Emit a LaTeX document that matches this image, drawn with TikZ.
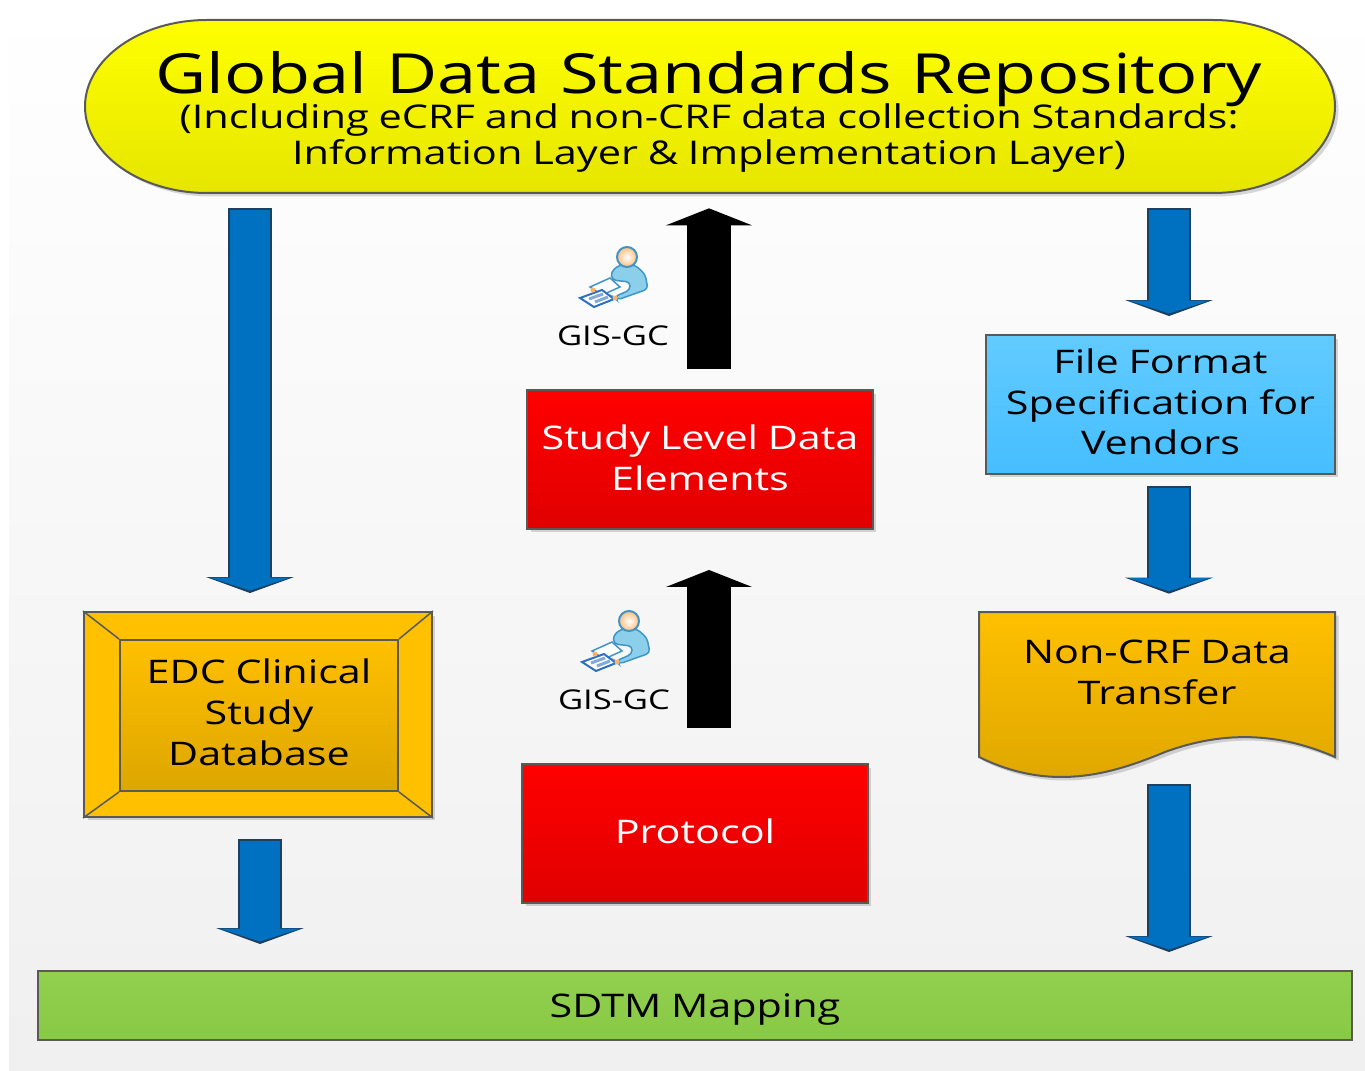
\documentclass[tikz,border=0pt]{standalone}
\usepackage{fontspec}
\setmainfont[FakeStretch=1.27]{Open Sans}
\usepackage{xcolor}
\usetikzlibrary{arrows, arrows.meta}
\usetikzlibrary{calc}
\usetikzlibrary{shadows}

\definecolor{edgegray}{HTML}{595959}
\definecolor{flowblue}{HTML}{0070C0}
\definecolor{flowedge}{HTML}{1F3F5F}
\definecolor{amber}{HTML}{FFC000}
\definecolor{amberlow}{HTML}{DDA600}
\definecolor{skylow}{HTML}{45BEFF}
\definecolor{skytop}{HTML}{62CBFF}
\definecolor{leaf}{HTML}{92D050}
\definecolor{leaflow}{HTML}{88C944}
\definecolor{bodyblue}{HTML}{8CCFEA}
\definecolor{bodyedge}{HTML}{3F94C8}
\definecolor{paperedge}{HTML}{3070C0}

\tikzset{
  softshadow/.style={drop shadow={shadow xshift=0.07cm, shadow yshift=-0.07cm, opacity=0.15, fill=black}},
  raisetext/.style={execute at end node={\par\vskip #1\hrule height 0pt}},
  boxbase/.style={draw=edgegray, line width=0.04cm, inner sep=0pt, align=center, text width=#1},
  boxfont/.style={font=\fontsize{18.5}{23.2}\selectfont, execute at begin node={\spaceskip=0.3em\relax}},
  redbox/.style={boxbase=6.92cm, boxfont, minimum width=6.92cm, minimum height=2.78cm, top color=red, bottom color=red!88!black, text=white, softshadow, raisetext=0.08cm},
  flowarrow/.style={line width=0.88cm, draw=black, -{Triangle[length=0.34cm, width=1.72cm, line width=0pt, fill=black]}},
  bluearrow/.style 2 args={line width=0.80cm, draw=flowblue, shorten <=#1, shorten >=#2+0.05cm,
    -{Triangle[length=0.26cm, width=1.62cm, line width=0pt, fill=flowblue, color=flowblue]},
    preaction={draw=flowedge, line width=0.88cm, shorten <=#1-0.04cm, shorten >=#2,
      -{Triangle[length=0.32cm, width=1.76cm, line width=0pt, fill=flowedge, color=flowedge]}}},
  reviewer/.pic={
    \draw[bodyedge, fill=white, line width=0.03cm] (-37,30) -- (-17,21) -- (-7,30) -- (-25,38) -- cycle;
    \draw[paperedge, fill=white, line width=0.04cm] (-47,41) -- (-25,33) -- (-13,42) -- (-33,50) -- cycle;
    \draw[paperedge!60, line width=0.06cm] (-38,42) -- (-24,37) (-32,45) -- (-19,40);
    \draw[bodyedge, fill=bodyblue, line width=0.03cm, rounded corners=0.08cm] (-8,8) -- (8,8) -- (18,17) -- (21,32) -- (-10,43) -- (-13,40) -- (3,33) -- (3,25) -- (-15,23) -- (-16,15) -- cycle;
    \fill[orange!60] (-34,33) circle (2.5) (-12,41) circle (2.5);
    \draw[bodyedge, shade, inner color=white, outer color=orange!50, line width=0.04cm] (0,0) circle (10);
  }
}

\begin{document}
\begin{tikzpicture}[x=0.02cm, y=-0.02cm]
  \useasboundingbox (0, 0) rectangle (1365, 1071);
  \shade[top color=white, bottom color=black!6] (9, 0) rectangle (1365, 1071);

  \coordinate (leftcol) at (250, 0);
  \coordinate (lowleftcol) at (260, 0);
  \coordinate (midcol) at (709, 0);
  \coordinate (rightcol) at (1169, 0);

  \draw[draw=edgegray, line width=0.04cm, top color=yellow, bottom color=yellow!90!black, softshadow] (207, 20) -- (1213, 20) .. controls (1280, 20) and (1335, 59) .. (1335, 106.5) .. controls (1335, 154) and (1280, 193) .. (1213, 193) -- (207, 193) .. controls (140, 193) and (85, 154) .. (85, 106.5) .. controls (85, 59) and (140, 20) .. (207, 20) -- cycle;
  \node[minimum width=25cm, minimum height=3.46cm, align=center, inner sep=0pt, text width=25cm, raisetext=-0.22cm] (repo) at (709, 106.5)
    {\fontsize{31.5}{21}\selectfont\spaceskip=0.35em\relax Global Data Standards Repository\\[-0.1cm]
     \fontsize{18.6}{21}\selectfont\spaceskip=0.3em\relax (Including eCRF and non-CRF data collection Standards:\\[0.02cm]
     \fontsize{18.6}{21}\selectfont\spaceskip=0.3em\relax Information Layer \& Implementation Layer)};

  \node[redbox] (study) at (700, 459.5) {Study Level Data\\Elements};
  \node[redbox] (protocol) at (695, 833.5) {Protocol};

  \node[boxbase=6.98cm, boxfont, minimum width=6.98cm, minimum height=2.78cm, top color=skytop, bottom color=skylow, softshadow, raisetext=0.10cm] (format) at (1160.5, 404.5) {File Format\\Specification for\\Vendors};

  \node[boxbase=6.96cm, minimum width=6.96cm, minimum height=4.1cm, fill=amber, softshadow] (edcframe) at (258, 714.5) {};
  \node[boxbase=5.56cm, boxfont, minimum width=5.56cm, minimum height=3.02cm, top color=amber, bottom color=amberlow, raisetext=0.12cm] (edc) at (259, 715.5) {EDC Clinical\\Study\\Database};
  \draw[edgegray, line width=0.03cm] (edcframe.north west) -- (edc.north west);
  \draw[edgegray, line width=0.03cm] (edcframe.north east) -- (edc.north east);
  \draw[edgegray, line width=0.03cm] (edcframe.south west) -- (edc.south west);
  \draw[edgegray, line width=0.03cm] (edcframe.south east) -- (edc.south east);

  \draw[draw=edgegray, line width=0.04cm, top color=amber, bottom color=amberlow, softshadow] (979, 612) -- (1335, 612) -- (1335, 757) .. controls (1280, 733) and (1225, 730) .. (1165, 752) .. controls (1110, 775) and (1050, 792) .. (979, 757) -- cycle;
  \node[boxfont, minimum width=7.12cm, minimum height=3.32cm, align=center, inner sep=0pt, text width=7.12cm, raisetext=0.92cm] (transfer) at (1157, 695) {Non-CRF Data\\Transfer};

  \node[boxbase=26.28cm, boxfont, minimum width=26.28cm, minimum height=1.38cm, top color=leaf, bottom color=leaflow, raisetext=-0.16cm] (sdtm) at (695, 1005.5) {SDTM Mapping};

  \draw[bluearrow={0.34cm}{0.36cm}] (repo.south -| leftcol) -- (edcframe.north -| leftcol);
  \draw[bluearrow={0.46cm}{0.52cm}] (edcframe.south -| lowleftcol) -- (sdtm.north -| lowleftcol);
  \draw[bluearrow={0.34cm}{0.36cm}] (repo.south -| rightcol) -- (format.north -| rightcol);
  \draw[bluearrow={0.26cm}{0.36cm}] (format.south -| rightcol) -- (transfer.north -| rightcol);
  \draw[bluearrow={0.16cm}{0.36cm}] (transfer.south -| rightcol) -- (sdtm.north -| rightcol);

  \draw[flowarrow, shorten <=0.40cm, shorten >=0.30cm] (study.north -| midcol) -- (repo.south -| midcol);
  \draw[flowarrow, shorten <=0.70cm, shorten >=0.80cm] (protocol.north -| midcol) -- (study.south -| midcol);

  \pic at (627, 257) {reviewer};
  \node[font=\fontsize{15.5}{18}\selectfont, inner sep=0pt] (gisupper) at (613, 336) {GIS-GC};
  \pic at (629, 621) {reviewer};
  \node[font=\fontsize{15.5}{18}\selectfont, inner sep=0pt] (gislower) at (614, 700) {GIS-GC};
\end{tikzpicture}
\end{document}
